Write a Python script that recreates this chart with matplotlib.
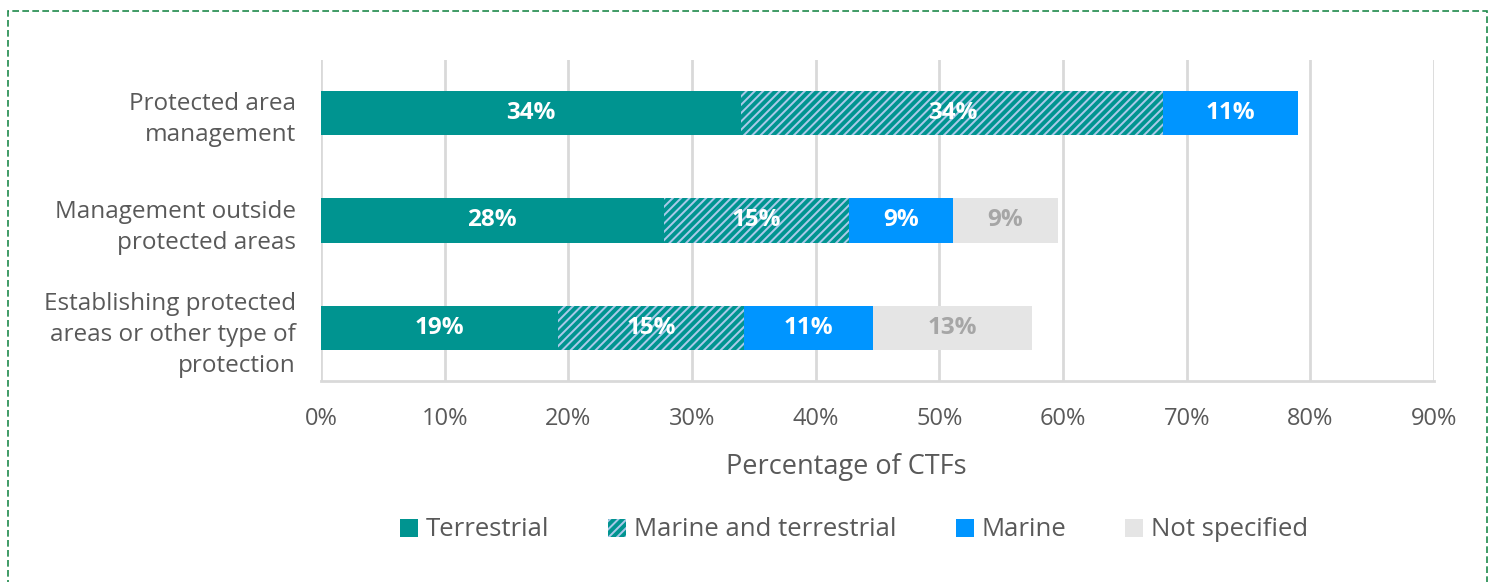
import matplotlib
matplotlib.use('Agg')
import matplotlib.pyplot as plt
import matplotlib.patches as mpatches
import numpy as np

# Dados
categorias = ['Protected area\nmanagement',
              'Management outside\nprotected areas',
              'Establishing protected\nareas or other type of\nprotection']
series = ['Terrestrial', 'Marine and terrestrial', 'Marine', 'Not specified']
terrestrial = [34.0, 27.7, 19.2]
marine_terr = [34.1, 15.0, 15.0]
marine = [10.9, 8.4, 10.4]
nao_especificado = [0.0, 8.5, 12.9]
rotulos = [
    ['34%', '28%', '19%'],
    ['34%', '15%', '15%'],
    ['11%', '9%', '11%'],
    ['', '9%', '13%'],
]
xticks = [0, 10, 20, 30, 40, 50, 60, 70, 80, 90]

TEAL = '#009490'
AZUL = '#0095ff'
CINZA = '#e5e5e5'
TEXTO = '#595959'

plt.rcParams['font.family'] = ['Open Sans', 'DejaVu Sans']
plt.rcParams['hatch.linewidth'] = 2.8

fig = plt.figure(figsize=(14.94, 5.82), dpi=100)
ax = fig.add_axes([321 / 1494, 1 - 381 / 582, (1434 - 321) / 1494, (381 - 60) / 582])

y = np.arange(len(categorias))
valores = [terrestrial, marine_terr, marine, nao_especificado]
estilos = [
    dict(color=TEAL),
    dict(facecolor='#a9c9e9', edgecolor=TEAL, hatch='////', linewidth=0),
    dict(color=AZUL),
    dict(color=CINZA),
]
cores_texto = ['white', 'white', 'white', '#a6a6a6']

esquerda = np.zeros(len(categorias))
handles = []
for i, nome in enumerate(series):
    vals = np.array(valores[i])
    barras = ax.barh(y, vals, left=esquerda, height=0.41, label=nome, zorder=3, **estilos[i])
    handles.append(barras)
    for j, b in enumerate(barras):
        if vals[j] > 0 and rotulos[i][j]:
            ax.text(esquerda[j] + vals[j] / 2, y[j], rotulos[i][j], ha='center', va='center',
                    color=cores_texto[i], fontsize=17.5, fontweight='bold', zorder=4)
    esquerda = esquerda + vals

ax.set_ylim(2.49, -0.49)
ax.set_xlim(0, 90)
ax.set_yticks(y)
ax.set_yticklabels(categorias, fontsize=17.5, color=TEXTO, linespacing=1.4)
ax.set_xticks(xticks)
ax.set_xticklabels([f'{v}%' for v in xticks], fontsize=17, color=TEXTO)
ax.tick_params(axis='both', length=0)
ax.tick_params(axis='y', pad=18)
ax.tick_params(axis='x', pad=19)

ax.grid(axis='x', color='#d9d9d9', linewidth=2, zorder=0)
for lado in ['top', 'right', 'left']:
    ax.spines[lado].set_visible(False)
ax.spines['bottom'].set_color('#d9d9d9')
ax.spines['bottom'].set_linewidth(2)

ax.set_xlabel('Percentage of CTFs', fontsize=19.5, color=TEXTO)
ax.xaxis.set_label_coords((846 - 321) / 1113, -(467 - 381) / 321)
ax.xaxis.label.set_va('center')

leg = fig.legend(handles=handles, labels=series, loc='center', bbox_to_anchor=(854 / 1494, 1 - 530 / 582),
                 ncol=4, frameon=False, fontsize=18.5, labelcolor=TEXTO,
                 handlelength=0.7, handleheight=0.7, handletextpad=0.3, columnspacing=2.3)

# Moldura tracejada
moldura = mpatches.Rectangle((8 / 1494, -0.05), (1487 - 8) / 1494, 1.05 - 11 / 582,
                             transform=fig.transFigure, fill=False, edgecolor='#1f8a4c',
                             linewidth=1.2, linestyle=(0, (4, 2)), clip_on=False)
fig.patches.append(moldura)

plt.savefig('out.png', dpi=100)
